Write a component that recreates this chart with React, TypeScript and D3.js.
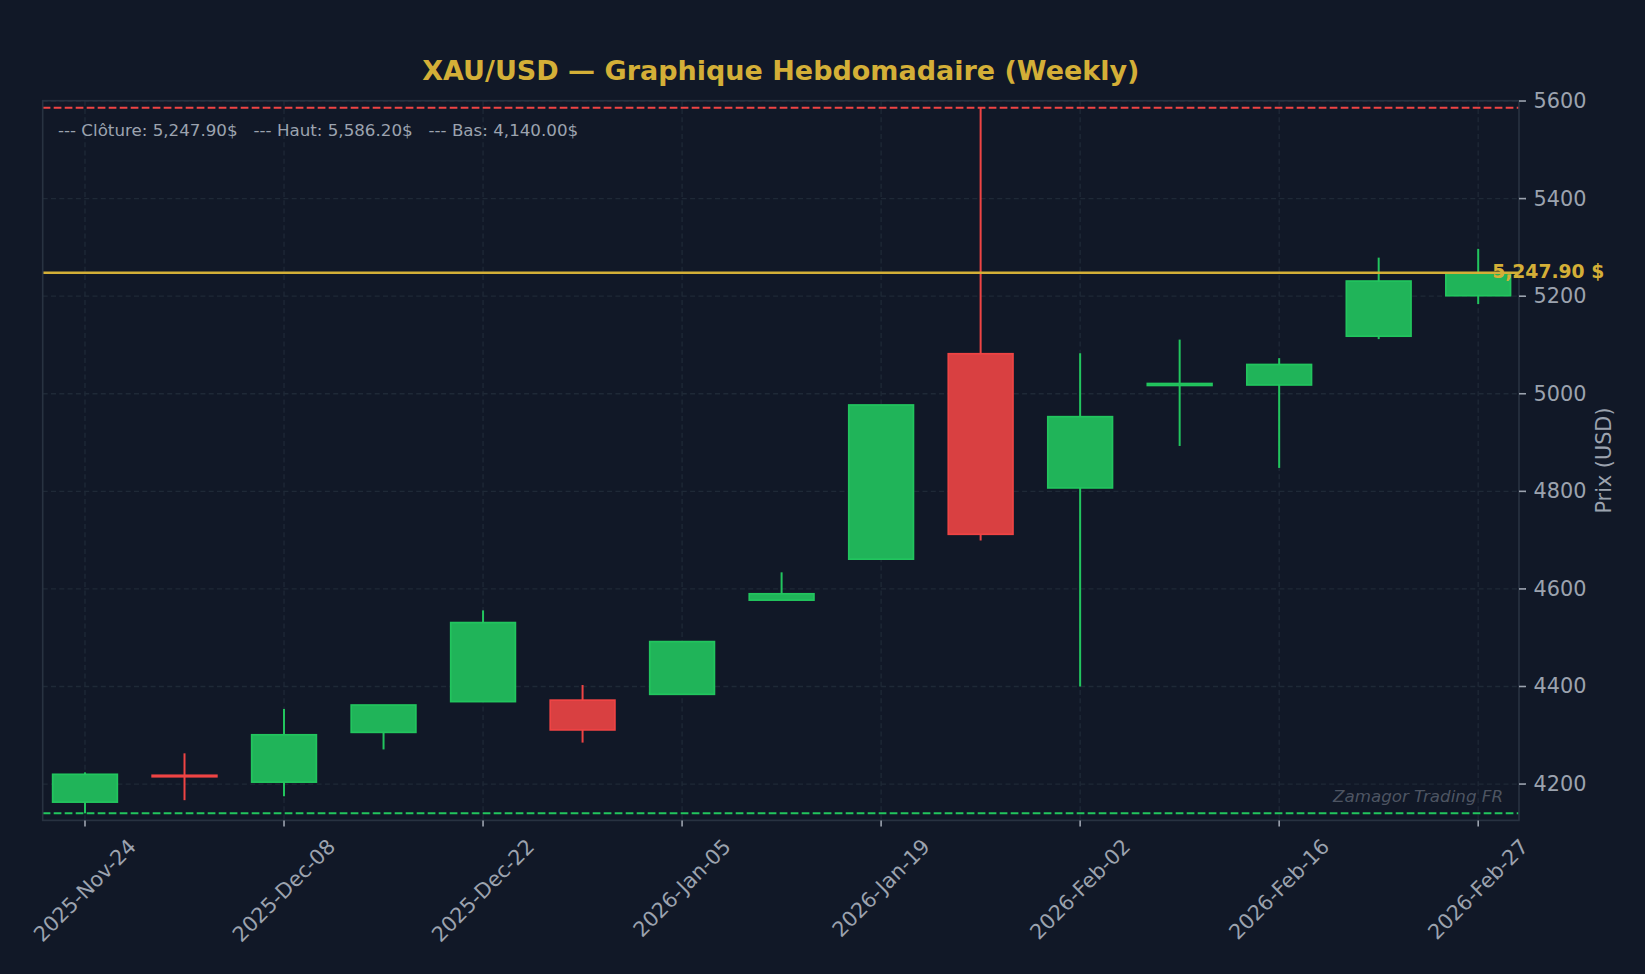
import React, { useEffect, useRef } from "react";
import * as d3 from "d3";

// ---- Data (weekly OHLC, XAU/USD) ----
const dates = [
  "2025-11-24", "2025-12-01", "2025-12-08", "2025-12-15", "2025-12-22",
  "2025-12-29", "2026-01-05", "2026-01-12", "2026-01-19", "2026-01-26",
  "2026-02-02", "2026-02-09", "2026-02-16", "2026-02-23", "2026-02-27",
];
const opens = [4163, 4218, 4204, 4306, 4369, 4372, 4384, 4577, 4661, 5082, 4807, 5017, 5018, 5118, 5201];
const highs = [4224, 4263, 4354, 4362, 4556, 4403, 4493, 4634, 4977, 5586.2, 5083, 5111, 5073, 5279, 5297];
const lows = [4140, 4167, 4175, 4271, 4369, 4285, 4383, 4577, 4661, 4699, 4400, 4893, 4848, 5112, 5184];
const closes = [4220, 4215, 4301, 4362, 4531, 4311, 4492, 4590, 4977, 4712, 4953, 5021, 5060, 5231, 5247.9];

const yTickValues = [4200, 4400, 4600, 4800, 5000, 5200, 5400, 5600];
const xTickIndex = [0, 2, 4, 6, 8, 10, 12, 14];

const TITLE = "XAU/USD — Graphique Hebdomadaire (Weekly)";
const Y_LABEL = "Prix (USD)";
const WATERMARK = "Zamagor Trading FR";

// ---- Layout & style ----
const W = 1645;
const H = 974;
const M = { left: 42.7, right: 1519, top: 100.7, bottom: 820.4 };
const BG = "#111827";
const GRID = "#1f2937";
const SPINE = "#283241";
const TEXT = "#9ca3af";
const GOLD = "#d4af37";
const GREEN = "#22c55e";
const RED = "#ef4444";
const GREEN_FILL = "#20b459";
const RED_FILL = "#d94041";
const FONT = "'DejaVu Sans', sans-serif";

export default function App() {
  const ref = useRef<SVGSVGElement>(null);

  useEffect(() => {
    const svg = d3.select(ref.current);
    svg.selectAll("*").remove();

    const n = dates.length;
    const parse = d3.timeParse("%Y-%m-%d");
    const fmtDate = d3.timeFormat("%Y-%b-%d");
    const fmtPrice = d3.format(",.2f");

    const hi = d3.max(highs) as number;
    const lo = d3.min(lows) as number;
    const last = closes[n - 1];
    const pad = (hi - lo) * 0.01;

    const x = d3.scaleLinear().domain([-0.425, n - 0.59]).range([M.left, M.right]);
    const y = d3.scaleLinear().domain([lo - pad, hi + pad]).range([M.bottom, M.top]);

    svg.append("rect").attr("width", W).attr("height", H).attr("fill", BG);

    // grid
    const g = svg.append("g");
    g.selectAll("line.gy")
      .data(yTickValues)
      .join("line")
      .attr("x1", M.left).attr("x2", M.right)
      .attr("y1", (d) => y(d)).attr("y2", (d) => y(d))
      .attr("stroke", GRID).attr("stroke-width", 1.3).attr("stroke-dasharray", "5,3.3");
    g.selectAll("line.gx")
      .data(xTickIndex)
      .join("line")
      .attr("x1", (d) => x(d)).attr("x2", (d) => x(d))
      .attr("y1", M.top).attr("y2", M.bottom)
      .attr("stroke", GRID).attr("stroke-width", 1.3).attr("stroke-dasharray", "5,3.3");

    // candles
    const idx = d3.range(n);
    const bw = (x(1) - x(0)) * 0.65;
    const up = (i: number) => closes[i] >= opens[i];
    const col = (i: number) => (up(i) ? GREEN : RED);
    const cg = svg.append("g");
    cg.selectAll("line.wick")
      .data(idx)
      .join("line")
      .attr("x1", (i) => x(i)).attr("x2", (i) => x(i))
      .attr("y1", (i) => y(highs[i])).attr("y2", (i) => y(lows[i]))
      .attr("stroke", (i) => col(i)).attr("stroke-width", 2);
    cg.selectAll("rect.body")
      .data(idx)
      .join("rect")
      .attr("x", (i) => x(i) - bw / 2)
      .attr("width", bw)
      .attr("y", (i) => y(Math.max(opens[i], closes[i])))
      .attr("height", (i) => Math.max(Math.abs(y(opens[i]) - y(closes[i])), 0.5))
      .attr("fill", (i) => (up(i) ? GREEN_FILL : RED_FILL))
      .attr("stroke", (i) => col(i)).attr("stroke-width", 1.7);

    // reference lines
    svg.append("line")
      .attr("x1", M.left).attr("x2", M.right).attr("y1", y(hi)).attr("y2", y(hi))
      .attr("stroke", RED).attr("stroke-width", 2).attr("stroke-dasharray", "7.7,3.3");
    svg.append("line")
      .attr("x1", M.left).attr("x2", M.right).attr("y1", y(lo)).attr("y2", y(lo))
      .attr("stroke", GREEN).attr("stroke-width", 2).attr("stroke-dasharray", "7.7,3.3");
    svg.append("line")
      .attr("x1", M.left).attr("x2", M.right).attr("y1", y(last)).attr("y2", y(last))
      .attr("stroke", GOLD).attr("stroke-width", 2.6);

    // spines
    svg.append("rect")
      .attr("x", M.left).attr("y", M.top)
      .attr("width", M.right - M.left).attr("height", M.bottom - M.top)
      .attr("fill", "none").attr("stroke", SPINE).attr("stroke-width", 1.6);

    // y ticks (right)
    const yt = svg.append("g");
    yt.selectAll("line")
      .data(yTickValues)
      .join("line")
      .attr("x1", M.right).attr("x2", M.right + 7)
      .attr("y1", (d) => y(d)).attr("y2", (d) => y(d))
      .attr("stroke", TEXT).attr("stroke-width", 1.6);
    yt.selectAll("text")
      .data(yTickValues)
      .join("text")
      .attr("x", M.right + 14.5)
      .attr("y", (d) => y(d))
      .attr("dominant-baseline", "central")
      .attr("font-family", FONT).attr("font-size", 20.8)
      .attr("fill", TEXT)
      .text((d) => String(d));

    // x ticks (bottom)
    const xt = svg.append("g");
    xt.selectAll("line")
      .data(xTickIndex)
      .join("line")
      .attr("x1", (d) => x(d)).attr("x2", (d) => x(d))
      .attr("y1", M.bottom).attr("y2", M.bottom + 6)
      .attr("stroke", TEXT).attr("stroke-width", 1.6);
    const fs = 20.8;
    xTickIndex.forEach((i) => {
      const label = fmtDate(parse(dates[i]) as Date);
      const t = xt.append("text")
        .attr("font-family", FONT).attr("font-size", fs)
        .attr("fill", TEXT)
        .attr("text-anchor", "middle")
        .attr("dominant-baseline", "central")
        .text(label);
      const w = (t.node() as SVGTextElement).getComputedTextLength();
      const bh = (w + fs * 1.164) * Math.SQRT1_2;
      const cx = x(i);
      const cy = M.bottom + 14 + bh / 2;
      t.attr("transform", `translate(${cx},${cy}) rotate(-45)`);
    });

    // y label
    svg.append("text")
      .attr("transform", `translate(1604,${(M.top + M.bottom) / 2}) rotate(-90)`)
      .attr("text-anchor", "middle").attr("dominant-baseline", "central")
      .attr("font-family", FONT).attr("font-size", 20.8).attr("fill", TEXT)
      .text(Y_LABEL);

    // title
    svg.append("text")
      .attr("x", (M.left + M.right) / 2).attr("y", 80)
      .attr("text-anchor", "middle")
      .attr("font-family", FONT).attr("font-size", 27).attr("font-weight", "bold")
      .attr("fill", GOLD)
      .text(TITLE);

    // info text
    svg.append("text")
      .attr("x", 58).attr("y", 136)
      .attr("font-family", FONT).attr("font-size", 16.7).attr("fill", TEXT)
      .style("white-space", "pre")
      .attr("xml:space", "preserve")
      .text(`--- Clôture: ${fmtPrice(last)}$   --- Haut: ${fmtPrice(hi)}$   --- Bas: ${fmtPrice(lo)}$`);

    // watermark
    svg.append("text")
      .attr("x", 1503).attr("y", 801.5)
      .attr("text-anchor", "end")
      .attr("font-family", FONT).attr("font-size", 16.7).attr("font-style", "italic")
      .attr("fill", TEXT).attr("fill-opacity", 0.45)
      .text(WATERMARK);

    // last close label
    svg.append("text")
      .attr("x", x(n - 1 + 0.14)).attr("y", y(last) - 1.5)
      .attr("dominant-baseline", "central")
      .attr("font-family", FONT).attr("font-size", 18.75).attr("font-weight", "bold")
      .attr("fill", GOLD)
      .text(`${fmtPrice(last)} $`);
  }, []);

  return (
    <div style={{ position: "fixed", left: 0, top: 0, width: W, height: H, background: BG }}>
      <svg ref={ref} width={W} height={H} style={{ display: "block" }} />
    </div>
  );
}
